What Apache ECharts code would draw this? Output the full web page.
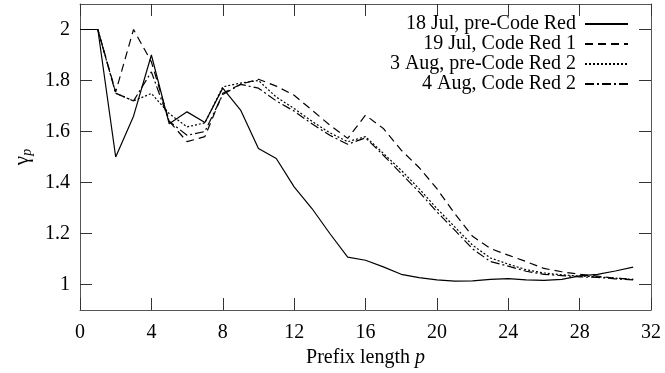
<!DOCTYPE html>
<html>
<head>
<meta charset="utf-8">
<script src="https://cdn.jsdelivr.net/npm/echarts@6/dist/echarts.min.js"></script>
<style>
html,body{margin:0;padding:0;background:#fff;}
#c{width:665px;height:373px;}
</style>
</head>
<body>
<div id="c"></div>
<script>
var prefixLength = [0,1,2,3,4,5,6,7,8,9,10,11,12,13,14,15,16,17,18,19,20,21,22,23,24,25,26,27,28,29,30,31];
var jul18PreCodeRed = [2,2,1.50,1.66,1.90,1.63,1.677,1.635,1.77,1.684,1.533,1.494,1.383,1.298,1.20,1.107,1.095,1.069,1.040,1.027,1.018,1.013,1.014,1.02,1.023,1.018,1.016,1.02,1.034,1.04,1.053,1.068];
var jul19CodeRed1 = [2,2,1.755,2.0,1.873,1.64,1.56,1.58,1.75,1.785,1.805,1.778,1.742,1.684,1.625,1.573,1.664,1.612,1.527,1.459,1.376,1.278,1.189,1.141,1.115,1.09,1.063,1.05,1.04,1.033,1.025,1.02];
var aug3PreCodeRed2 = [2,2,1.75,1.72,1.749,1.67,1.618,1.634,1.775,1.79,1.80,1.735,1.69,1.64,1.595,1.56,1.58,1.514,1.448,1.376,1.298,1.226,1.154,1.104,1.08,1.058,1.045,1.038,1.033,1.03,1.025,1.02];
var aug4CodeRed2 = [2,2,1.75,1.72,1.834,1.64,1.585,1.60,1.745,1.785,1.77,1.72,1.68,1.63,1.585,1.55,1.575,1.507,1.435,1.363,1.285,1.213,1.14,1.09,1.072,1.052,1.04,1.035,1.03,1.028,1.022,1.018];
var seriesNames = ['18 Jul, pre-Code Red','19 Jul, Code Red 1','3 Aug, pre-Code Red 2','4 Aug, Code Red 2'];
var xTicks = [0,4,8,12,16,20,24,28,32];
var yTicks = [1,1.2,1.4,1.6,1.8,2];

var FONT = 'Liberation Serif';
var FS = 20;
var AX = '#555';
function pairs(vals){ return prefixLength.map(function(p,i){ return [p, vals[i]]; }); }
function mkSeries(name, vals, dash){
  return {
    name: name, type: 'line', data: pairs(vals), symbol: 'none', silent: true,
    xAxisIndex: 0, yAxisIndex: 0, color: '#000',
    itemStyle: { color: '#000' },
    lineStyle: { color: '#000', width: 1.2, type: dash },
    animation: false
  };
}
var chart = echarts.init(document.getElementById('c'), null, {renderer:'canvas'});
var baseX = {
  type: 'value', min: 0, max: 32, interval: 4,
  axisLine: { show: true, onZero: false, lineStyle: { color: AX, width: 1 } },
  axisTick: { show: true, inside: true, length: 12, lineStyle: { color: '#333', width: 1 } },
  splitLine: { show: false }
};
var baseY = {
  type: 'value', min: 0.9, max: 2.1,
  axisLine: { show: true, onZero: false, lineStyle: { color: AX, width: 1 } },
  axisTick: { show: true, inside: true, length: 12, customValues: yTicks, lineStyle: { color: '#333', width: 1 } },
  splitLine: { show: false }
};
var option = {
  backgroundColor: '#fff',
  animation: false,
  grid: { left: 80, right: 14, top: 4, bottom: 63, containLabel: false },
  legend: {
    show: true, orient: 'vertical', right: 31, top: 9, align: 'right',
    itemWidth: 43, itemHeight: 10, itemGap: 0,
    data: seriesNames,
    itemStyle: { opacity: 0 },
    textStyle: { fontFamily: FONT, fontSize: FS, lineHeight: 19, color: '#000', padding: [0, 4, 0, 0] }
  },
  xAxis: [
    Object.assign({}, baseX, {
      position: 'bottom',
      name: '{n|Prefix length }{i|p}', nameLocation: 'middle', nameGap: 34,
      nameTextStyle: { rich: { n: { fontFamily: FONT, fontSize: FS, color: '#000' }, i: { fontFamily: FONT, fontSize: FS, fontStyle: 'italic', color: '#000' } } },
      axisLabel: { show: true, margin: 13, fontFamily: FONT, fontSize: FS, color: '#000' }
    }),
    Object.assign({}, baseX, { position: 'top', axisLabel: { show: false } })
  ],
  yAxis: [
    Object.assign({}, baseY, {
      position: 'left',
      name: '{g|γ}{s|p}', nameLocation: 'middle', nameGap: 46, nameRotate: 90,
      nameTextStyle: { rich: { g: { fontFamily: FONT, fontSize: 21, color: '#000' }, s: { fontFamily: FONT, fontSize: 14, fontStyle: 'italic', color: '#000', verticalAlign: 'bottom', padding: [10,0,0,0] } } },
      axisLabel: { show: true, margin: 10, fontFamily: FONT, fontSize: FS, color: '#000', customValues: yTicks }
    }),
    Object.assign({}, baseY, { position: 'right', axisLabel: { show: false } })
  ],
  series: [
    mkSeries(seriesNames[0], jul18PreCodeRed, 'solid'),
    mkSeries(seriesNames[1], jul19CodeRed1, [8, 5]),
    mkSeries(seriesNames[2], aug3PreCodeRed2, [2, 2]),
    mkSeries(seriesNames[3], aug4CodeRed2, [9, 3, 2, 3])
  ]
};
chart.setOption(option);
</script>
</body>
</html>
